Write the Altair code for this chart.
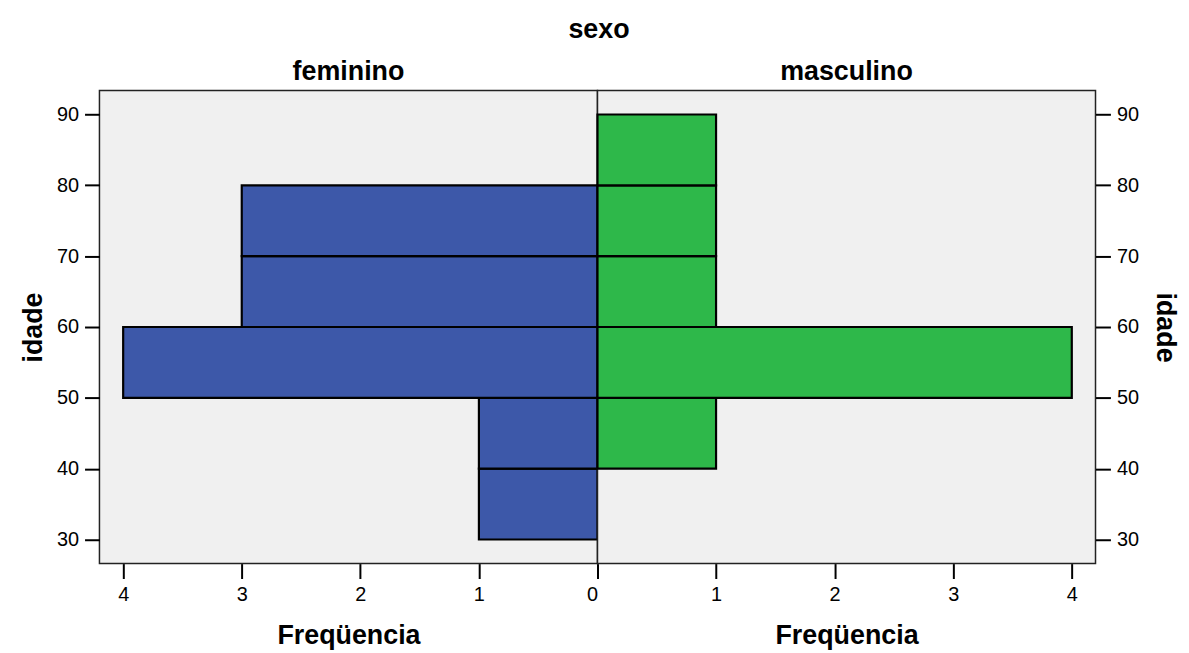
import altair as alt
import pandas as pd

# data (age bins of width 10)
fem_lo = [30, 40, 50, 60, 70]
fem_hi = [40, 50, 60, 70, 80]
fem_count = [1, 1, 4, 3, 3]

masc_lo = [40, 50, 60, 70, 80]
masc_hi = [50, 60, 70, 80, 90]
masc_count = [1, 4, 1, 1, 1]

y_ticks = [30, 40, 50, 60, 70, 80, 90]
fem_x_ticks = [0, 1, 2, 3, 4]
masc_x_ticks = [1, 2, 3, 4]

fem = pd.DataFrame({"lo": fem_lo, "hi": fem_hi, "count": fem_count})
masc = pd.DataFrame({"lo": masc_lo, "hi": masc_hi, "count": masc_count})

BLUE = "#3d58a9"
GREEN = "#2eb84a"
FONT = "Liberation Sans"
W, H = 501, 476
TFS = 27

yscale = alt.Scale(domain=[26.6, 93.4], nice=False, zero=False)

def axis_x(values):
    return alt.Axis(values=values, title="Freqüencia", format="d", grid=False,
                    domain=False, tickSize=15, tickWidth=2, tickColor="black",
                    labelFontSize=20, labelColor="black", labelPadding=6,
                    titleFontSize=TFS, titleFontWeight="bold", titleColor="black",
                    titlePadding=18, labelFont=FONT, titleFont=FONT)

def axis_y(orient, pad):
    return alt.Axis(values=y_ticks, title="idade", orient=orient, grid=False,
                    domain=False, tickSize=15, tickWidth=2, tickColor="black",
                    labelFontSize=20, labelColor="black", labelPadding=6,
                    titleFontSize=TFS, titleFontWeight="bold", titleColor="black",
                    titlePadding=pad, labelFont=FONT, titleFont=FONT)

title_props = dict(fontSize=TFS, fontWeight="bold", font=FONT, color="black", offset=4)

left = alt.Chart(fem, title=alt.TitleParams("feminino", **title_props)).mark_rect(
    fill=BLUE, stroke="black", strokeWidth=2.2
).encode(
    x=alt.X("count:Q", scale=alt.Scale(domain=[0, 4.2], nice=False, reverse=True),
            axis=axis_x(fem_x_ticks)),
    x2=alt.datum(0),
    y=alt.Y("lo:Q", scale=yscale, axis=axis_y("left", 9)),
    y2="hi:Q",
).properties(width=W, height=H)

right = alt.Chart(masc, title=alt.TitleParams("masculino", **title_props)).mark_rect(
    fill=GREEN, stroke="black", strokeWidth=2.2
).encode(
    x=alt.X("count:Q", scale=alt.Scale(domain=[0, 4.2], nice=False),
            axis=axis_x(masc_x_ticks)),
    x2=alt.datum(0),
    y=alt.Y("lo:Q", scale=yscale, axis=axis_y("right", 12)),
    y2="hi:Q",
).properties(width=W, height=H)

chart = alt.hconcat(left, right, spacing=0, bounds="flush").resolve_scale(
    y="independent"
).properties(
    title=alt.TitleParams("sexo", fontSize=TFS, fontWeight="bold", font=FONT,
                          color="black", anchor="middle", offset=14),
    padding={"left": 11, "right": 2, "top": 6, "bottom": 0},
    background="white",
).configure_view(
    fill="#f0f0f0", stroke="#222222", strokeWidth=1.5
)

chart.save("out.html", embed_options={"renderer": "svg", "actions": False})
